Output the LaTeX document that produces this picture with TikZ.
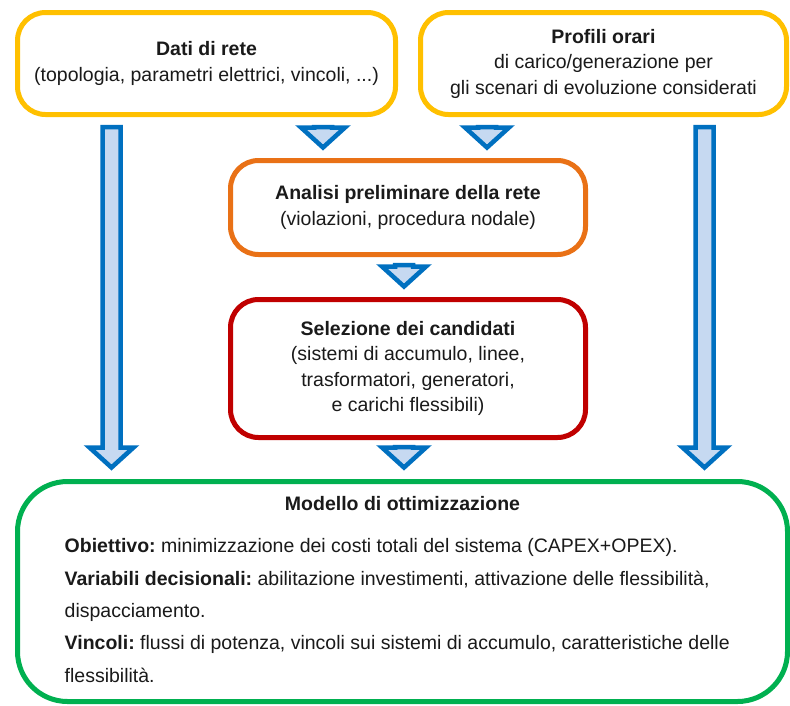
\documentclass[tikz,border=0pt]{standalone}
\usepackage{fontspec}
\setmainfont{Liberation Sans}
\usetikzlibrary{calc}
\definecolor{cyellow}{HTML}{FFC000}
\definecolor{corange}{HTML}{E97116}
\definecolor{cred}{HTML}{C00000}
\definecolor{cgreen}{HTML}{00B050}
\definecolor{cblue}{HTML}{0070C0}
\definecolor{clight}{HTML}{C6D9F1}
\definecolor{ctext}{HTML}{1A1A1A}
\frenchspacing
\begin{document}
\begin{tikzpicture}[x=1pt,y=1pt,
  box/.style={draw, line width=5pt, rounded corners=28pt, fill=white, align=center,
    inner sep=0pt, text=ctext, font=\fontsize{19.5}{25.5}\selectfont},
  barrow/.style={draw=cblue, fill=clight, line width=4.5pt, line join=miter,
    to path={let \p1=(\tikztostart), \p2=(\tikztotarget) in
      (\x1-9pt,\y1) -- (\x1+9pt,\y1) -- (\x1+9pt,\y2+20pt) -- (\x1+22pt,\y2+20pt)
      -- (\x1,\y2) -- (\x1-22pt,\y2+20pt) -- (\x1-9pt,\y2+20pt) -- cycle}},
  bodytext/.style={text=ctext, inner sep=0pt, font=\fontsize{19.5}{32.3}\selectfont}]
\useasboundingbox (0,0) rectangle (790,-705);

\node[box, draw=cyellow, minimum width=378pt, minimum height=102pt] (dati) at (206.5,-63.5)
  {\textbf{Dati di rete}\\(topologia, parametri elettrici, vincoli, ...)};
\node[box, draw=cyellow, minimum width=366pt, minimum height=102pt] (prof) at (603.5,-63.5)
  {\textbf{Profili orari}\\di carico/generazione per\\gli scenari di evoluzione considerati};
\node[box, draw=corange, minimum width=355pt, minimum height=94pt] (anal) at (408,-207.5)
  {\textbf{Analisi preliminare della rete}\\(violazioni, procedura nodale)};
\node[box, draw=cred, minimum width=355pt, minimum height=138pt] (sel) at (408,-368.5)
  {\textbf{Selezione dei candidati}\\(sistemi di accumulo, linee,\\trasformatori, generatori,\\e carichi flessibili)};
\node[box, draw=cgreen, rounded corners=50pt, minimum width=770pt, minimum height=220pt] (model) at (402.5,-591.5) {};

\node[bodytext, anchor=base, font=\fontsize{19.5}{32}\selectfont\bfseries] (mtitle)
  at ($(model.north)+(0,-31.5)$) {Modello di ottimizzazione};
\node[bodytext, anchor=base west, align=left] (mbody) at ($(model.north west)+(49.5,-203)$)
  {\textbf{Obiettivo:} minimizzazione dei costi totali del sistema (CAPEX+OPEX).\\
   \textbf{Variabili decisionali:} abilitazione investimenti, attivazione delle flessibilità,\\
   dispacciamento.\\
   \textbf{Vincoli:} flussi di potenza, vincoli sui sistemi di accumulo, caratteristiche delle\\
   flessibilità.};

\draw[barrow] ($(dati.south)+(-95,-10)$) to ($(model.north)+(-291,11.5)$);
\draw[barrow] ($(prof.south)+(101,-10)$) to ($(model.north)+(302,11.5)$);
\draw[barrow] ($(dati.south)+(116.5,-10)$) to ($(anal.north)+(-85,10.5)$);
\draw[barrow] ($(prof.south)+(-116.5,-10)$) to ($(anal.north)+(79,10.5)$);
\draw[barrow] ($(anal.south)+(-4,-8)$) to ($(sel.north)+(-4,10.5)$);
\draw[barrow] ($(sel.south)+(-4,-7)$) to ($(model.north)+(1.5,11.5)$);
\end{tikzpicture}
\end{document}
